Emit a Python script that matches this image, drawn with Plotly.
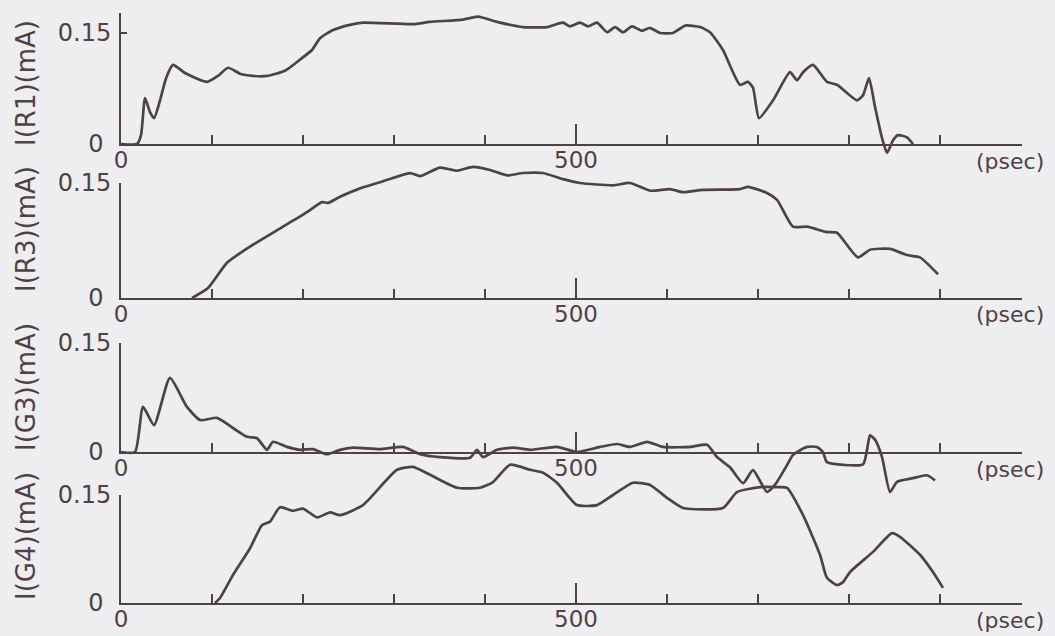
import plotly.graph_objects as go

# ---------------- data (time in psec, current in mA) ----------------
R1_T = [0, 17.6, 22, 26.4, 31.9, 36.3, 42.9, 49.5, 57.1, 70.3, 94.5, 106.6, 117.6, 130.8,
        145.1, 160.4, 180.2, 196.7, 209.9, 218.7, 233, 251.6, 265.9, 320.9, 339.6, 375.8,
        392.3, 413.2, 441.8, 468.1, 485.7, 493.4, 504.4, 513.2, 523.1, 534.1, 542.9, 551.6,
        561.5, 572.5, 581.3, 592.3, 606.6, 620, 636.3, 647.3, 661.5, 680.2, 689, 694.5,
        701.1, 716.5, 735.2, 742.9, 749.5, 760.4, 775.8, 786.8, 808.8, 815.4, 822, 828.6,
        836.3, 841.8, 848.4, 853.8, 863.7, 870.3]
R1_I = [0, 0, 0.012, 0.062, 0.043, 0.035, 0.059, 0.089, 0.107, 0.096, 0.084, 0.092, 0.103,
        0.095, 0.092, 0.092, 0.099, 0.114, 0.127, 0.143, 0.154, 0.161, 0.164, 0.162, 0.165,
        0.168, 0.172, 0.165, 0.158, 0.158, 0.164, 0.159, 0.164, 0.159, 0.164, 0.151, 0.158,
        0.151, 0.159, 0.153, 0.157, 0.150, 0.150, 0.160, 0.158, 0.151, 0.127, 0.080, 0.084,
        0.076, 0.035, 0.059, 0.097, 0.086, 0.097, 0.107, 0.084, 0.080, 0.059, 0.066, 0.089,
        0.050, 0.008, -0.012, 0.005, 0.012, 0.009, 0.0]

R3_T = [78, 95.6, 116.5, 141.8, 178, 204.4, 220.9, 227.5, 240.7, 262.6, 284.6, 317.6, 328.6,
        350.5, 369.2, 386.8, 405.5, 424.2, 441.8, 463.7, 485.7, 504.4, 540.7, 559.3, 581.3,
        603.3, 617.6, 639.6, 680.2, 689, 709.9, 720.9, 738.5, 753.8, 775.8, 786.8, 809.9,
        823.1, 845.1, 863.7, 878, 897.8]
R3_I = [0, 0.013, 0.046, 0.067, 0.093, 0.112, 0.125, 0.124, 0.132, 0.143, 0.151, 0.163, 0.159,
        0.170, 0.166, 0.171, 0.167, 0.160, 0.163, 0.163, 0.155, 0.150, 0.147, 0.150, 0.140,
        0.142, 0.138, 0.141, 0.142, 0.145, 0.137, 0.128, 0.093, 0.093, 0.086, 0.085, 0.053,
        0.063, 0.064, 0.056, 0.053, 0.031]

G3_T = [0, 15.4, 24.2, 36.3, 53.8, 72.5, 86.8, 105.5, 123.1, 138.5, 149.5, 160.4, 167, 182.4,
        196.7, 211, 226.4, 240.7, 255, 284.6, 309.9, 328.6, 350.5, 383.5, 391.2, 397.8, 413.2,
        430.8, 449.5, 479.1, 501.1, 526.4, 545.1, 559.3, 578, 595.6, 625.3, 644, 655, 669.2,
        683.5, 694.5, 709.9, 718.7, 731.9, 738.5, 753.8, 764.8, 771.4, 775.8, 815.4, 819.8,
        823.1, 828.6, 836.3, 845.1, 852.7, 870.3, 885.7, 894.5]
G3_I = [0, 0, 0.062, 0.037, 0.102, 0.062, 0.044, 0.047, 0.033, 0.021, 0.019, 0.003, 0.014,
        0.007, 0.003, 0.004, -0.003, 0.003, 0.006, 0.004, 0.007, -0.003, -0.007, -0.008, 0.003,
        -0.007, 0.003, 0.006, 0.003, 0.007, 0, 0.007, 0.011, 0.007, 0.014, 0.007, 0.007, 0.010,
        -0.007, -0.021, -0.043, -0.025, -0.055, -0.045, -0.018, -0.004, 0.007, 0.007, 0,
        -0.014, -0.017, 0.003, 0.023, 0.017, -0.007, -0.055, -0.041, -0.036, -0.032, -0.039]

G4_T = [103.3, 108.8, 123.1, 141.8, 154.9, 163.7, 174.7, 189, 200, 215.4, 229.7, 240.7, 265.9,
        303.3, 320.9, 339.6, 369.2, 394.5, 408.8, 427.5, 449.5, 463.7, 479.1, 501.1, 523.1,
        540.7, 562.6, 581.3, 600, 617.6, 661.5, 676.9, 702.2, 720.9, 731.9, 749.5, 768.1,
        775.8, 786.8, 793.4, 801.1, 826.4, 847.3, 856, 878, 892.3, 903.3]
G4_I = [0, 0.007, 0.039, 0.076, 0.108, 0.113, 0.133, 0.128, 0.131, 0.119, 0.126, 0.122, 0.136,
        0.185, 0.189, 0.178, 0.160, 0.160, 0.168, 0.192, 0.185, 0.181, 0.167, 0.136, 0.136,
        0.150, 0.167, 0.164, 0.146, 0.132, 0.132, 0.154, 0.161, 0.161, 0.160, 0.122, 0.067,
        0.035, 0.025, 0.029, 0.043, 0.071, 0.097, 0.092, 0.067, 0.043, 0.021]

Y_TITLES = ["I(R1)(mA)", "I(R3)(mA)", "I(G3)(mA)", "I(G4)(mA)"]
X_TICKS = [0, 500]
X_TICKTEXT = ["0", "500"]
Y_TICKS = [0, 0.15]
Y_TICKTEXT = ["0\u00a0", "0.15"]
X_UNIT = "(psec)"

SERIES = [(R1_T, R1_I), (R3_T, R3_I), (G3_T, G3_I), (G4_T, G4_I)]

# ---------------- layout geometry (pixels) ----------------
W, H = 1055, 636
X0, X1 = 121, 1022          # x-axis span in pixels
PX_PER_PS = 0.91
# zero-line pixel, px per mA, frame top pixel, data range low/high, title centre
GEOM = [
    dict(zero=144, s=740.0, top=13, lo=-0.025, hi=0.177, tc=83),
    dict(zero=298, s=766.7, top=183, lo=-0.010, hi=0.190, tc=229),
    dict(zero=452, s=726.7, top=343, lo=-0.070, hi=0.150, tc=387),
    dict(zero=603, s=720.0, top=495, lo=-0.010, hi=0.210, tc=536),
]

INK = "#4f4245"
BG = "#eeedf0"
FONT = "DejaVu Sans"


def py(p):
    return 1 - p / H


fig = go.Figure()
layout = dict(
    template="none",
    width=W, height=H, autosize=False,
    margin=dict(l=0, r=0, t=0, b=0, pad=0, autoexpand=False),
    paper_bgcolor=BG, plot_bgcolor="rgba(0,0,0,0)",
    showlegend=False,
    font=dict(family=FONT, color=INK, size=24),
    annotations=[],
)

for k, ((t, i), g, title) in enumerate(zip(SERIES, GEOM, Y_TITLES), start=1):
    fy = k + 4
    # data trace
    fig.add_trace(go.Scatter(
        x=t, y=i, mode="lines", xaxis=f"x{k}", yaxis=f"y{k}",
        line=dict(color=INK, width=2.7, shape="spline", smoothing=0.55),
        hoverinfo="skip"))
    # frame subplot placeholder
    fig.add_trace(go.Scatter(x=[None], y=[None], xaxis=f"x{k}", yaxis=f"y{fy}",
                             hoverinfo="skip"))

    layout[f"xaxis{k}"] = dict(
        domain=[X0 / W, X1 / W], range=[0, (X1 - X0) / PX_PER_PS],
        anchor=f"y{fy}", showline=True, linecolor=INK, linewidth=2,
        showgrid=False, zeroline=False, automargin=False,
        tickmode="array", tickvals=X_TICKS, ticktext=X_TICKTEXT,
        ticks="inside", ticklen=20, tickwidth=2, tickcolor=INK,
        ticklabelstandoff=-6,
        minor=dict(tickmode="linear", tick0=0, dtick=100, ticks="inside",
                   ticklen=9, tickwidth=1.6, tickcolor=INK, showgrid=False),
        tickfont=dict(size=23, color=INK, family=FONT),
        fixedrange=True,
    )
    layout[f"yaxis{k}"] = dict(
        domain=[py(g["zero"] - g["lo"] * g["s"]), py(g["zero"] - g["hi"] * g["s"])],
        range=[g["lo"], g["hi"]], anchor=f"x{k}", visible=False, fixedrange=True,
        automargin=False,
    )
    layout[f"yaxis{fy}"] = dict(
        domain=[py(g["zero"]), py(g["top"])],
        range=[0, (g["zero"] - g["top"]) / g["s"]], anchor=f"x{k}",
        showline=True, linecolor=INK, linewidth=2, showgrid=False, zeroline=False,
        automargin=False,
        tickmode="array", tickvals=Y_TICKS, ticktext=Y_TICKTEXT,
        ticks="inside", ticklen=6, tickwidth=2, tickcolor=INK,
        ticklabelstandoff=3,
        tickfont=dict(size=24, color=INK, family=FONT), fixedrange=True,
    )
    layout["annotations"].append(dict(
        text=title, xref="paper", yref="paper", x=26 / W, y=py(g["tc"]),
        textangle=-90, showarrow=False, xanchor="center", yanchor="middle",
        font=dict(size=26, color=INK, family=FONT)))
    layout["annotations"].append(dict(
        text=X_UNIT, xref="paper", yref="paper", x=1010 / W, y=py(g["zero"] + 17),
        showarrow=False, xanchor="center", yanchor="middle",
        font=dict(size=22, color=INK, family=FONT)))

fig.update_layout(**layout)
fig.write_html("out.html", config={"displayModeBar": False},
               post_script="document.body.style.margin='0';document.body.style.background='%s';" % BG)
